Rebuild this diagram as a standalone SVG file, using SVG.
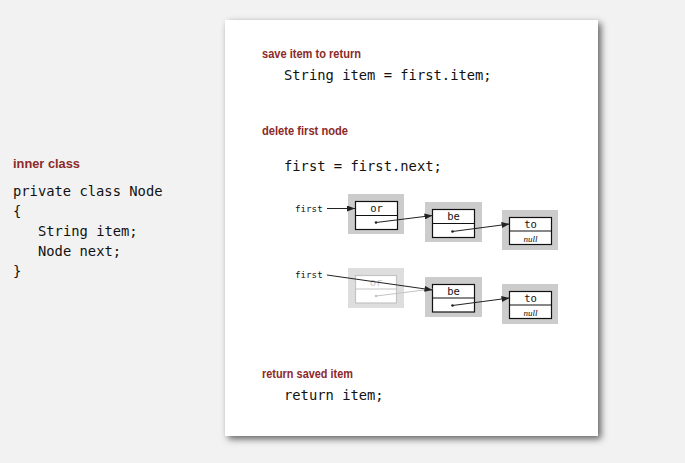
<svg xmlns="http://www.w3.org/2000/svg" width="685" height="463" viewBox="0 0 685 463">
<style>
.lbl{font-family:"Liberation Sans",Arial,sans-serif;font-weight:bold;font-size:12.5px;fill:#8c2a2a}
.code{font-family:"DejaVu Sans Mono",monospace;font-size:13.8px;fill:#111}
.sm{font-family:"DejaVu Sans Mono",monospace;font-size:9.2px;fill:#111}
.nt{font-family:"DejaVu Sans Mono",monospace;font-size:10.5px;fill:#111;text-anchor:middle}
.nul{font-family:"Liberation Serif",serif;font-style:italic;font-size:9px;fill:#111;text-anchor:middle}
.gbox{fill:#cccccc}
.ibox{fill:#fff;stroke:#111;stroke-width:1.2}
.div{stroke:#111;stroke-width:1.2}
.fg{fill:#dedede}
.fi{fill:#fff;stroke:#c4c4c4;stroke-width:1.2}
.fd{stroke:#c4c4c4;stroke-width:1.2}
.ft{font-family:"DejaVu Sans Mono",monospace;font-size:10.5px;fill:#c4c4c4;text-anchor:middle}
.link{stroke:#222;stroke-width:1;fill:none;marker-end:url(#ah)}
.flink{stroke:#c4c4c4;stroke-width:1;fill:none;marker-end:url(#ahf)}
</style>
<defs>
<filter id="sh" x="-10%" y="-10%" width="120%" height="120%">
<feDropShadow dx="3" dy="3" stdDeviation="3.5" flood-color="#000" flood-opacity="0.6"/>
</filter>
<marker id="ah" markerUnits="userSpaceOnUse" markerWidth="9" markerHeight="6" refX="8" refY="3" orient="auto">
<path d="M0,0 L8,3 L0,6 z" fill="#222"/>
</marker>
<marker id="ahf" markerUnits="userSpaceOnUse" markerWidth="9" markerHeight="6" refX="8" refY="3" orient="auto">
<path d="M0,0 L8,3 L0,6 z" fill="#c4c4c4"/>
</marker>
</defs>
<rect x="0" y="0" width="685" height="463" fill="#f2f2f2"/>
<rect x="225" y="20" width="373" height="416" fill="#fff" filter="url(#sh)"/>

<g id="left-code">
<text class="lbl" x="13" y="168" textLength="67" lengthAdjust="spacingAndGlyphs">inner class</text>
<text class="code" x="13" y="196">private class Node</text>
<text class="code" x="13" y="216">{</text>
<text class="code" x="38" y="236">String item;</text>
<text class="code" x="38" y="256">Node next;</text>
<text class="code" x="13" y="276">}</text>
</g>

<g id="panel-text">
<text class="lbl" x="262" y="58" textLength="99" lengthAdjust="spacingAndGlyphs">save item to return</text>
<text class="code" x="284" y="80">String item = first.item;</text>
<text class="lbl" x="262" y="135" textLength="86" lengthAdjust="spacingAndGlyphs">delete first node</text>
<text class="code" x="284" y="171">first = first.next;</text>
<text class="lbl" x="262" y="378" textLength="91" lengthAdjust="spacingAndGlyphs">return saved item</text>
<text class="code" x="284" y="400">return item;</text>
<text class="sm" x="295" y="211.5">first</text>
<text class="sm" x="295" y="278">first</text>
</g>

<g id="node-or-1">
<rect class="gbox" x="348" y="194" width="56" height="40"/>
<rect class="ibox" x="355.5" y="201.5" width="42" height="28"/>
<line class="div" x1="355.5" y1="215.5" x2="397.5" y2="215.5"/>
<text class="nt" x="376.5" y="212">or</text>
</g>
<g id="node-be-1">
<rect class="gbox" x="425" y="202" width="57" height="40"/>
<rect class="ibox" x="432.5" y="209.5" width="42" height="28"/>
<line class="div" x1="432.5" y1="223.5" x2="474.5" y2="223.5"/>
<text class="nt" x="453.5" y="220">be</text>
</g>
<g id="node-to-1">
<rect class="gbox" x="502" y="210" width="56" height="40"/>
<rect class="ibox" x="509.5" y="217.5" width="42" height="27"/>
<line class="div" x1="509.5" y1="231" x2="551.5" y2="231"/>
<text class="nt" x="530.5" y="228">to</text>
<text class="nul" x="530.5" y="241.5">null</text>
</g>

<g id="node-or-2">
<rect class="fg" x="348" y="268" width="56" height="40"/>
<rect class="fi" x="355.5" y="275.5" width="41" height="27.5"/>
<line class="fd" x1="355.5" y1="289" x2="396.5" y2="289"/>
<text class="ft" x="376" y="286">or</text>
</g>
<g id="node-be-2">
<rect class="gbox" x="425" y="277" width="57" height="40"/>
<rect class="ibox" x="432.5" y="284.5" width="42" height="27.5"/>
<line class="div" x1="432.5" y1="298" x2="474.5" y2="298"/>
<text class="nt" x="453.5" y="295">be</text>
</g>
<g id="node-to-2">
<rect class="gbox" x="502" y="284" width="56" height="40"/>
<rect class="ibox" x="509.5" y="291.5" width="42" height="27"/>
<line class="div" x1="509.5" y1="305" x2="551.5" y2="305"/>
<text class="nt" x="530.5" y="302">to</text>
<text class="nul" x="530.5" y="315.5">null</text>
</g>

<g id="connectors">
<line class="link" x1="327" y1="208.5" x2="355" y2="208.5"/>
<circle cx="376" cy="222.5" r="1.3" fill="#222"/>
<line class="link" x1="376" y1="222.5" x2="432.5" y2="215.5"/>
<circle cx="452.5" cy="231.5" r="1.3" fill="#222"/>
<line class="link" x1="452.5" y1="231.5" x2="509.5" y2="224"/>
<circle cx="376" cy="296" r="1.3" fill="#c4c4c4"/>
<line class="flink" x1="376" y1="296" x2="432.5" y2="289"/>
<line class="link" x1="327" y1="275" x2="432.5" y2="290"/>
<circle cx="452.5" cy="305.5" r="1.3" fill="#222"/>
<line class="link" x1="452.5" y1="305.5" x2="509.5" y2="298"/>
</g>
</svg>
